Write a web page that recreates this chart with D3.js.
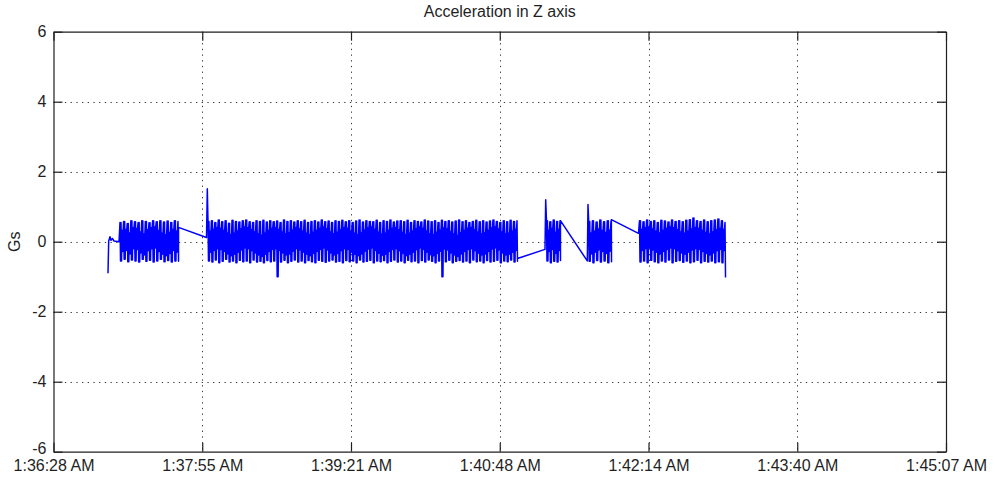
<!DOCTYPE html>
<html>
<head>
<meta charset="utf-8">
<script src="https://cdn.jsdelivr.net/npm/d3@7"></script>
<style>
  html, body { margin: 0; padding: 0; background: #fff; }
  svg { display: block; }
  text { font-family: "Liberation Sans", Arial, sans-serif; }
</style>
</head>
<body>
<svg id="chart" width="995" height="478"></svg>
<script>
// ---- Data (time in seconds after 1:36:28 AM, acceleration in Gs) ----
const tickSeconds = [0, 86.5, 173, 259.5, 346, 432.5, 519];
const tickLabels = ["1:36:28 AM", "1:37:55 AM", "1:39:21 AM", "1:40:48 AM", "1:42:14 AM", "1:43:40 AM", "1:45:07 AM"];
const yTicks = [-6, -4, -2, 0, 2, 4, 6];

// lead-in samples before the first vibration burst
const leadIn = [[31.69, -0.9], [32.10, 0.02], [32.86, 0.14], [33.44, 0.04], [34.31, 0.09], [35.18, 0.02], [38.09, 0.0]];

// burst time spans [start, end]
const burstSpans = [[38.67, 72.40], [89.84, 269.53], [286.68, 294.54], [311.22, 324.19], [340.77, 390.49]];

// per-stroke peaks (hi / lo) and centre of the dense core band, per burst
const hi1 = [0.55,0.58,0.52,0.6,0.57,0.55,0.6,0.58,0.54,0.6,0.57,0.6,0.56,0.59,0.55,0.6,0.58];
const lo1 = [-0.55,-0.5,-0.57,-0.52,-0.55,-0.58,-0.5,-0.56,-0.53,-0.58,-0.55,-0.5,-0.57,-0.54,-0.58,-0.55,-0.56];
const mid1 = [0.02,0.05,-0.05,0.1,0.08,-0.02,-0.08,0.04,0.1,0.12,0.02,-0.06,-0.1,-0.04,0.05,0.0,0.03];

const hi2 = [0.58,0.6,0.55,0.62,0.57,0.6,0.53,0.61,0.58,0.56,
  0.6,0.62,0.57,0.55,0.6,0.58,0.61,0.56,0.6,0.57,
  0.59,0.55,0.62,0.58,0.6,0.56,0.6,0.57,0.61,0.55,
  0.58,0.6,0.56,0.62,0.57,0.59,0.55,0.6,0.58,0.61,
  0.57,0.6,0.55,0.59,0.62,0.56,0.6,0.58,0.57,0.61,
  0.55,0.6,0.58,0.62,0.56,0.59,0.6,0.57,0.61,0.55,
  0.6,0.58,0.56,0.62,0.59,0.57,0.6,0.55,0.61,0.58,
  0.6,0.56,0.59,0.62,0.57,0.6,0.55,0.58,0.61,0.57,
  0.6,0.56,0.59,0.62,0.58,0.55,0.6,0.57,0.61,0.58,0.6];
const lo2 = [-0.55,-0.58,-0.52,-0.6,-0.56,-0.5,-0.58,-0.55,-0.6,-0.53,
  -0.57,-0.55,-0.6,-0.52,-0.58,-0.56,-0.6,-0.54,-0.57,-0.55,
  -1.0,-0.58,-0.53,-0.6,-0.56,-0.52,-0.58,-0.55,-0.6,-0.54,
  -0.57,-0.6,-0.53,-0.56,-0.59,-0.55,-0.52,-0.58,-0.56,-0.6,
  -0.54,-0.57,-0.55,-0.6,-0.52,-0.58,-0.56,-0.53,-0.6,-0.55,
  -0.57,-0.54,-0.6,-0.56,-0.52,-0.58,-0.55,-0.6,-0.53,-0.57,
  -0.55,-0.6,-0.54,-0.58,-0.52,-0.56,-0.6,-0.55,-1.0,-0.57,
  -0.53,-0.6,-0.56,-0.54,-0.58,-0.55,-0.6,-0.52,-0.57,-0.55,
  -0.6,-0.54,-0.58,-0.56,-0.53,-0.6,-0.55,-0.57,-0.52,-0.58,-0.56];
const mid2 = [0.0,0.05,0.1,0.08,0.02,-0.05,-0.1,-0.06,0.0,0.06,
  0.12,0.1,0.04,-0.02,-0.08,-0.12,-0.06,0.02,0.08,0.1,
  0.05,-0.02,-0.08,-0.05,0.03,0.1,0.06,0.0,-0.06,-0.1,
  -0.04,0.02,0.08,0.12,0.06,-0.02,-0.08,-0.04,0.04,0.1,
  0.08,0.0,-0.06,-0.1,-0.05,0.03,0.09,0.12,0.05,-0.03,
  -0.09,-0.06,0.02,0.08,0.1,0.04,-0.04,-0.1,-0.06,0.0,
  0.07,0.12,0.08,0.0,-0.07,-0.1,-0.04,0.03,0.09,0.06,
  -0.02,-0.08,-0.12,-0.05,0.02,0.08,0.1,0.04,-0.03,-0.08,
  -0.05,0.02,0.09,0.12,0.06,-0.02,-0.08,-0.06,0.0,0.05,0.02];

const hi3 = [0.6,0.57,0.62,0.58,0.6];
const lo3 = [-0.55,-0.6,-0.56,-0.58,-0.54];
const mid3 = [0.02,0.08,-0.04,0.05,0.0];

const hi4 = [0.58,0.6,0.56,0.62,0.57,0.6,0.59];
const lo4 = [-0.56,-0.6,-0.54,-0.58,-0.55,-0.6,-0.57];
const mid4 = [-0.05,0.0,0.06,0.02,-0.04,0.03,0.0];

const hi5 = [0.6,0.57,0.62,0.58,0.6,0.55,0.61,0.59,0.56,0.62,0.58,0.6,0.57,0.61,0.63,0.68,0.6,0.58,0.62,0.57,0.6,0.62,0.65,0.6,0.55];
const lo5 = [-0.58,-0.55,-0.6,-0.53,-0.57,-0.6,-0.55,-0.58,-0.52,-0.6,-0.56,-0.54,-0.59,-0.55,-0.6,-0.57,-0.53,-0.6,-0.56,-0.58,-0.55,-0.6,-0.57,-0.6,-1.02];
const mid5 = [0.05,0.1,0.12,0.06,0.0,-0.05,0.02,0.08,0.12,0.1,0.04,-0.02,-0.06,0.0,0.06,0.1,0.08,0.02,-0.04,-0.08,-0.02,0.04,0.08,0.05,0.0];

// half width of the dense core band around each mid value
const coreHalfWidth = 0.3;

// gap samples joining consecutive bursts (including the start-up spikes)
const link1 = [[72.7, 0.41], [88.97, 0.12], [89.44, 1.51]];
const link2 = [[269.8, -0.48], [285.81, -0.22], [286.22, 1.2]];
const link3 = [[294.8, 0.6], [310.41, -0.55], [310.82, 1.06]];
const link4 = [[324.4, 0.63], [340.18, 0.24]];

// ---- Layout ----
const svg = d3.select("#chart");
const plotLeft = 53.5, plotRight = 946, plotTop = 31.7, plotBottom = 451.7;
const x = d3.scaleLinear().domain([0, 519]).range([plotLeft, plotRight]);
const y = d3.scaleLinear().domain([-6, 6]).range([plotBottom, plotTop]);
const ink = "#1f1f1f";
const fontSize = 16;

svg.append("rect").attr("width", 995).attr("height", 478).attr("fill", "#fff");

// Sample sequence of one vibration burst: each stroke swings twice between
// its peaks, then settles into the narrower core oscillation.
function burstSamples(span, hi, lo, mid) {
  const n = hi.length;
  const step = (span[1] - span[0]) / (n - 1);
  const d = step / 7;
  const pts = [];
  hi.forEach((h, i) => {
    const t = span[0] + i * step;
    pts.push([t, h], [t + d, lo[i]]);
    if (i < n - 1) {
      const m = mid[i];
      pts.push([t + 2 * d, h], [t + 3 * d, lo[i]],
               [t + 4 * d, m + coreHalfWidth], [t + 5 * d, m - coreHalfWidth],
               [t + 6 * d, m + coreHalfWidth]);
    }
  });
  return pts;
}

const series = [].concat(
  leadIn,
  burstSamples(burstSpans[0], hi1, lo1, mid1), link1,
  burstSamples(burstSpans[1], hi2, lo2, mid2), link2,
  burstSamples(burstSpans[2], hi3, lo3, mid3), link3,
  burstSamples(burstSpans[3], hi4, lo4, mid4), link4,
  burstSamples(burstSpans[4], hi5, lo5, mid5)
);

// ---- Grid (dotted) ----
const grid = svg.append("g").attr("stroke", "#3a3a3a").attr("stroke-width", 1)
  .attr("stroke-dasharray", "1.3,4.4").attr("fill", "none");
grid.selectAll("line.gx").data(tickSeconds.slice(1, -1)).join("line")
  .attr("class", "gx")
  .attr("x1", d => Math.round(x(d)) + 0.5).attr("x2", d => Math.round(x(d)) + 0.5)
  .attr("y1", plotTop).attr("y2", plotBottom);
grid.selectAll("line.gy").data(yTicks.slice(1, -1)).join("line")
  .attr("class", "gy")
  .attr("y1", d => Math.round(y(d)) + 0.5).attr("y2", d => Math.round(y(d)) + 0.5)
  .attr("x1", plotLeft).attr("x2", plotRight);

// ---- Data line ----
svg.append("clipPath").attr("id", "plotClip").append("rect")
  .attr("x", plotLeft).attr("y", plotTop)
  .attr("width", plotRight - plotLeft).attr("height", plotBottom - plotTop);
const line = d3.line().x(d => x(d[0])).y(d => y(d[1]));
svg.append("path")
  .datum(series)
  .attr("clip-path", "url(#plotClip)")
  .attr("fill", "none")
  .attr("stroke", "#0000ff")
  .attr("stroke-width", 1.5)
  .attr("stroke-linejoin", "round")
  .attr("d", line);

// ---- Axes (box with inward ticks) ----
function styleAxis(g) {
  g.select(".domain").attr("stroke", ink).attr("stroke-width", 1.2);
  g.selectAll(".tick line").attr("stroke", ink).attr("stroke-width", 1.2);
  g.selectAll(".tick text").attr("fill", ink).attr("font-size", fontSize)
    .attr("font-family", "Liberation Sans, Arial, sans-serif");
}

svg.append("g").attr("transform", `translate(0,${plotBottom})`)
  .call(d3.axisBottom(x).tickValues(tickSeconds).tickFormat((d, i) => tickLabels[i])
    .tickSizeInner(-9).tickSizeOuter(0).tickPadding(8))
  .call(styleAxis);
svg.append("g").attr("transform", `translate(0,${plotTop})`)
  .call(d3.axisTop(x).tickValues(tickSeconds).tickFormat("").tickSizeInner(-9).tickSizeOuter(0))
  .call(styleAxis);
svg.append("g").attr("transform", `translate(${plotLeft},0)`)
  .call(d3.axisLeft(y).tickValues(yTicks).tickFormat(d => String(d))
    .tickSizeInner(-9).tickSizeOuter(0).tickPadding(7))
  .call(styleAxis)
  // the lowest label sits just above the time labels in the corner
  .call(g => g.selectAll(".tick text").filter(d => d === -6).attr("dy", "0.12em"));
svg.append("g").attr("transform", `translate(${plotRight},0)`)
  .call(d3.axisRight(y).tickValues(yTicks).tickFormat("").tickSizeInner(-9).tickSizeOuter(0))
  .call(styleAxis);

// ---- Title and axis label ----
svg.append("text")
  .attr("x", (plotLeft + plotRight) / 2).attr("y", 17)
  .attr("text-anchor", "middle").attr("font-size", fontSize).attr("fill", ink)
  .text("Acceleration in Z axis");
svg.append("text")
  .attr("transform", `translate(20,${y(0)}) rotate(-90)`)
  .attr("text-anchor", "middle").attr("font-size", fontSize).attr("fill", ink)
  .text("Gs");
</script>
</body>
</html>
